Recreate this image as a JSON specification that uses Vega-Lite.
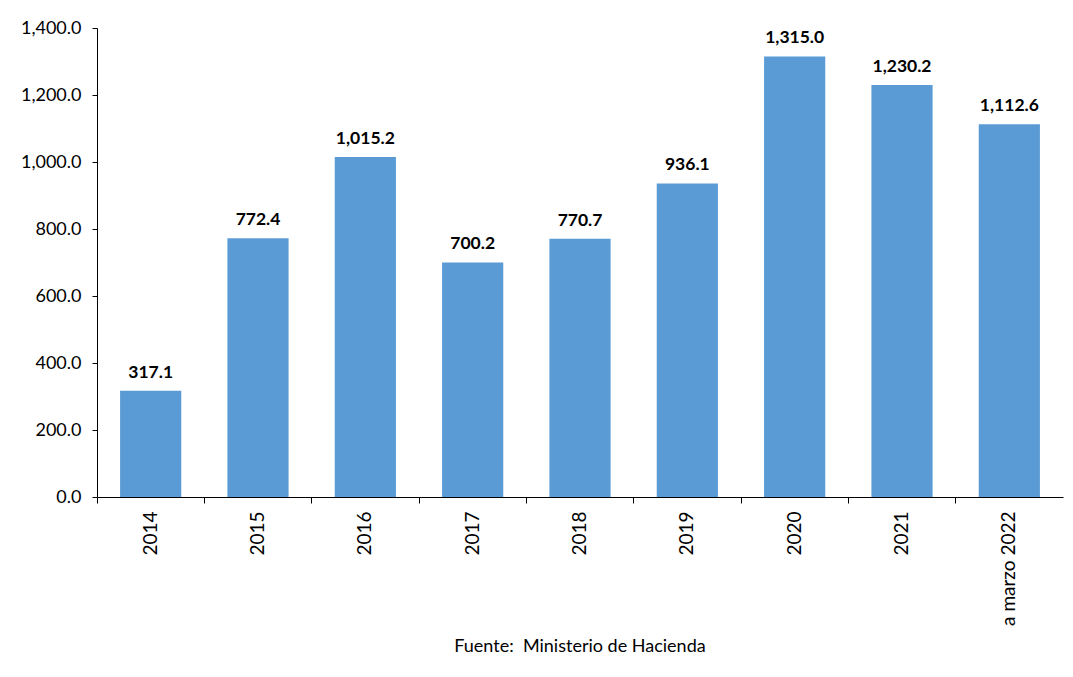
{
  "$schema": "https://vega.github.io/schema/vega-lite/v6.json",
  "width": 966,
  "height": 469,
  "autosize": {"type": "none"},
  "padding": {"left": 97, "top": 28, "right": 10, "bottom": 180},
  "background": "white",
  "config": {
    "view": {"stroke": null},
    "font": "Lato",
    "axis": {"labelFont": "Lato", "labelColor": "#000000", "domainColor": "#000000", "tickColor": "#000000", "grid": false, "title": null}
  },
  "title": {
    "text": "Fuente:\u00a0\u00a0Ministerio de Hacienda",
    "orient": "bottom",
    "anchor": "middle",
    "font": "Lato",
    "fontSize": 18,
    "fontWeight": "normal",
    "color": "#000000",
    "offset": 13
  },
  "data": {
    "values": [
      {"year": "2014", "value": 317.1},
      {"year": "2015", "value": 772.4},
      {"year": "2016", "value": 1015.2},
      {"year": "2017", "value": 700.2},
      {"year": "2018", "value": 770.7},
      {"year": "2019", "value": 936.1},
      {"year": "2020", "value": 1315.0},
      {"year": "2021", "value": 1230.2},
      {"year": "a marzo 2022", "value": 1112.6}
    ]
  },
  "encoding": {
    "x": {
      "field": "year",
      "type": "nominal",
      "sort": null,
      "scale": {"paddingInner": 0, "paddingOuter": 0},
      "axis": {
        "labelAngle": -90,
        "labelFontSize": 19,
        "labelPadding": 8,
        "tickSize": 6,
        "bandPosition": 0,
        "labelAlign": "right",
        "labelBaseline": "middle"
      }
    },
    "y": {
      "field": "value",
      "type": "quantitative",
      "scale": {"domain": [0, 1400]},
      "axis": {
        "values": [0, 200, 400, 600, 800, 1000, 1200, 1400],
        "format": ",.1f",
        "labelFontSize": 18,
        "tickSize": 5,
        "labelPadding": 11
      }
    }
  },
  "layer": [
    {"mark": {"type": "bar", "color": "#5B9BD5", "width": {"band": 0.57}}},
    {
      "mark": {"type": "text", "fontWeight": "bold", "fontSize": 17.5, "dy": -13, "baseline": "alphabetic", "color": "#000000"},
      "encoding": {"text": {"field": "value", "type": "quantitative", "format": ",.1f"}}
    }
  ]
}
